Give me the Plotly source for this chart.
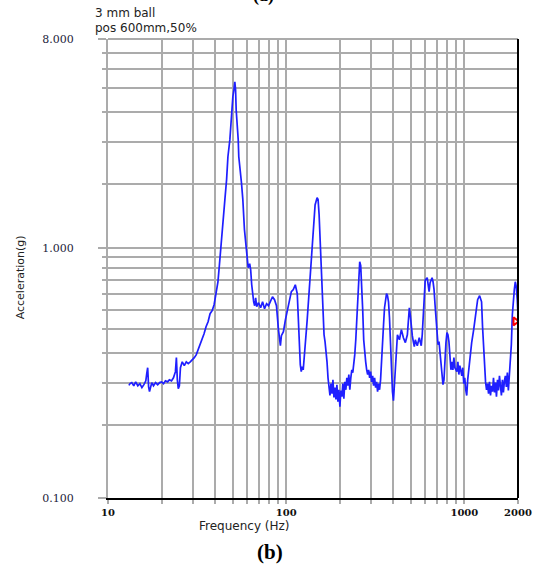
import math
import plotly.graph_objects as go

# ---- data ----
freq_hz = [
    13.1, 13.3, 13.6, 13.95, 14.3, 14.7, 15.1, 15.5, 15.9, 16.3,
    16.5, 16.7, 16.9, 17.1, 17.6, 18.0, 18.5, 19.0, 19.5, 20.0,
    20.5, 21.0, 21.6, 22.1, 22.7, 23.3, 23.9, 24.2, 24.5, 24.8,
    25.15, 25.5, 26.1, 26.8, 27.5, 28.2, 28.95, 29.7, 30.5, 31.3,
    32.1, 32.9, 33.8, 34.6, 35.5, 36.45, 37.4, 38.4, 39.4, 40.4,
    41.4, 42.2, 42.9, 43.8, 45.3, 46.3, 47.1, 48.3, 48.9, 49.4,
    50.2, 50.9, 51.5, 52.0, 52.4, 53.8, 54.2, 56.1, 57.1, 58.3,
    59.55, 60.5, 61.2, 62.4, 63.2, 64.05, 64.9, 65.7, 66.55, 67.4,
    68.3, 70.0, 71.9, 73.7, 75.6, 77.6, 79.6, 81.7, 83.8, 86.0,
    88.2, 90.5, 91.65, 92.8, 94.0, 96.5, 99.0, 101.6, 104.2, 106.9,
    109.65, 112.5, 115.4, 116.9, 118.4, 120.0, 121.5, 123.1, 124.65, 126.3,
    127.9, 131.2, 134.6, 138.1, 141.7, 145.3, 149.1, 151.0, 153.0, 154.9,
    156.9, 159.0, 161.0, 163.1, 165.2, 167.3, 169.5, 171.7, 173.9, 176.1,
    178.4, 180.7, 183.0, 185.4, 187.8, 190.2, 192.6, 195.1, 197.6, 200.2,
    202.8, 205.4, 208.0, 210.7, 213.4, 216.2, 219.0, 221.8, 224.7, 227.6,
    230.5, 233.5, 236.5, 239.5, 242.6, 245.8, 248.9, 252.1, 255.4, 258.7,
    262.0, 265.4, 268.8, 272.3, 275.8, 279.4, 283.0, 286.6, 290.3, 294.1,
    297.8, 301.7, 305.6, 309.5, 313.5, 317.6, 321.7, 325.8, 330.0, 334.3,
    338.6, 343.0, 347.4, 351.9, 356.4, 361.0, 365.7, 370.4, 375.2, 380.0,
    384.9, 389.9, 394.9, 400.0, 405.2, 410.4, 415.7, 421.1, 432.0, 443.2,
    454.8, 466.6, 478.7, 484.9, 491.2, 497.5, 503.9, 510.4, 517.0, 523.7,
    530.4, 544.2, 558.3, 572.8, 580.2, 587.7, 595.3, 603.0, 618.6, 625.9,
    634.0, 642.2, 650.4, 658.8, 667.3, 675.9, 684.6, 693.5, 702.4, 711.5,
    720.7, 730.0, 739.4, 748.9, 758.6, 768.4, 778.3, 788.3, 798.5, 808.8,
    819.2, 829.8, 840.5, 851.3, 862.3, 873.4, 884.7, 907.7, 919.4, 931.2,
    943.2, 967.7, 979.8, 992.4, 1005, 1018, 1031, 1044, 1058, 1072,
    1099, 1128, 1157, 1187, 1218, 1249, 1265, 1282, 1298, 1315,
    1332, 1349, 1367, 1384, 1402, 1420, 1439, 1457, 1476, 1495,
    1514, 1534, 1554, 1574, 1594, 1614, 1635, 1656, 1678, 1699,
    1721, 1743, 1766, 1789, 1812, 1835, 1859, 1883, 1907, 1931,
    1956, 1981, 1995,
]
accel_g = [
    0.293, 0.298, 0.301, 0.292, 0.303, 0.292, 0.298, 0.287, 0.295, 0.306,
    0.328, 0.347, 0.289, 0.276, 0.301, 0.292, 0.301, 0.295, 0.301, 0.303,
    0.298, 0.306, 0.303, 0.309, 0.306, 0.315, 0.334, 0.382, 0.309, 0.284,
    0.292, 0.347, 0.367, 0.354, 0.367, 0.361, 0.367, 0.374, 0.382, 0.393,
    0.412, 0.432, 0.453, 0.480, 0.513, 0.538, 0.581, 0.598, 0.633, 0.697,
    0.788, 0.927, 1.08, 1.385, 1.73, 2.09, 2.60, 3.06, 3.63, 4.07,
    4.61, 4.93, 5.32, 4.93, 4.07, 3.06, 2.60, 2.03, 1.73, 1.30,
    1.10, 0.954, 0.902, 0.936, 0.884, 0.766, 0.690, 0.651, 0.627, 0.676,
    0.621, 0.645, 0.615, 0.651, 0.609, 0.639, 0.627, 0.658, 0.683, 0.664,
    0.627, 0.499, 0.445, 0.428, 0.471, 0.489, 0.548, 0.604, 0.664, 0.717,
    0.731, 0.766, 0.703, 0.559, 0.432, 0.357, 0.334, 0.350, 0.340, 0.374,
    0.432, 0.548, 0.731, 0.975, 1.30, 1.64, 1.76, 1.73, 1.50, 1.18,
    0.884, 0.664, 0.548, 0.475, 0.445, 0.412, 0.367, 0.315, 0.292, 0.266,
    0.298, 0.271, 0.309, 0.261, 0.287, 0.256, 0.295, 0.251, 0.281, 0.239,
    0.279, 0.263, 0.298, 0.258, 0.303, 0.281, 0.315, 0.292, 0.325, 0.281,
    0.315, 0.340, 0.331, 0.354, 0.393, 0.453, 0.548, 0.697, 0.867, 0.954,
    0.919, 0.766, 0.604, 0.453, 0.393, 0.367, 0.340, 0.325, 0.340, 0.315,
    0.334, 0.303, 0.321, 0.292, 0.315, 0.287, 0.303, 0.276, 0.298, 0.281,
    0.309, 0.357, 0.432, 0.523, 0.615, 0.683, 0.703, 0.690, 0.651, 0.559,
    0.432, 0.334, 0.276, 0.253, 0.295, 0.367, 0.432, 0.475, 0.453, 0.499,
    0.462, 0.441, 0.475, 0.538, 0.615, 0.570, 0.499, 0.471, 0.445, 0.424,
    0.453, 0.428, 0.462, 0.428, 0.475, 0.592, 0.703, 0.800, 0.819, 0.759,
    0.717, 0.781, 0.800, 0.819, 0.788, 0.731, 0.633, 0.548, 0.475, 0.432,
    0.445, 0.393, 0.357, 0.325, 0.295, 0.309, 0.382, 0.441, 0.485, 0.475,
    0.445, 0.374, 0.340, 0.367, 0.340, 0.382, 0.347, 0.334, 0.367, 0.325,
    0.354, 0.321, 0.347, 0.298, 0.315, 0.281, 0.266, 0.309, 0.340, 0.389,
    0.441, 0.499, 0.575, 0.664, 0.690, 0.651, 0.513, 0.412, 0.340, 0.303,
    0.281, 0.298, 0.271, 0.303, 0.266, 0.292, 0.276, 0.315, 0.274, 0.301,
    0.263, 0.309, 0.279, 0.321, 0.292, 0.266, 0.309, 0.274, 0.306, 0.321,
    0.289, 0.331, 0.279, 0.315, 0.374, 0.432, 0.575, 0.676, 0.731, 0.788,
    0.752, 0.664, 0.598,
]

cursor_hz = [1931]
cursor_g = [0.54]

x_tick_vals = [10, 100, 1000, 2000]
x_tick_text = ["10", "100", "1000", "2000"]
x_minor_vals = [20, 30, 40, 50, 60, 70, 80, 90, 200, 300, 400, 500, 600, 700, 800, 900]

y_tick_vals = [0.1, 1.088, 8]
y_tick_text = ["0.100", "1.000", "8.000"]
y_minor_vals = [0.2, 0.3, 0.4, 0.5, 0.6, 0.7, 0.8, 0.9, 1, 2, 3, 4, 5, 6, 7]

title_lines = ["3 mm ball", "pos 600mm,50%"]

GRID = "#ababab"

fig = go.Figure()
fig.add_trace(go.Scatter(
    x=freq_hz, y=accel_g, mode="lines",
    line=dict(color="#1f1fff", width=1.7),
    hoverinfo="skip", showlegend=False,
))
fig.add_trace(go.Scatter(
    x=cursor_hz, y=cursor_g, mode="markers",
    marker=dict(symbol="triangle-right-open", size=7, color="#ff0000",
                line=dict(color="#ff0000", width=2)),
    hoverinfo="skip", showlegend=False,
))

fig.update_layout(
    width=544, height=570,
    margin=dict(l=108, r=22, t=39, b=72),
    paper_bgcolor="white", plot_bgcolor="white",
    showlegend=False,
    xaxis=dict(
        type="log", range=[1, math.log10(2000)],
        tickmode="array", tickvals=x_tick_vals, ticktext=x_tick_text,
        ticks="outside", ticklen=4, tickcolor=GRID, tickwidth=1.5,
        tickfont=dict(family="DejaVu Serif", size=10, color="#111111", weight="bold"),
        showgrid=True, gridcolor=GRID, gridwidth=2,
        showline=True, linecolor="#000000", linewidth=2,
        zeroline=False,
        minor=dict(tickmode="array", tickvals=x_minor_vals, ticks="outside",
                   ticklen=4, tickcolor=GRID, showgrid=True,
                   gridcolor=GRID, gridwidth=2),
    ),
    yaxis=dict(
        type="log", range=[-1, math.log10(8)],
        tickmode="array", tickvals=y_tick_vals, ticktext=y_tick_text,
        ticks="outside", ticklen=8, tickcolor=GRID, tickwidth=1.5,
        ticklabelstandoff=22,
        tickfont=dict(family="DejaVu Serif", size=11, color="#1c1c3a"),
        showgrid=True, gridcolor=GRID, gridwidth=2,
        showline=True, linecolor=GRID, linewidth=2,
        zeroline=False,
        minor=dict(tickmode="array", tickvals=y_minor_vals, ticks="outside",
                   ticklen=4, tickcolor=GRID, showgrid=True,
                   gridcolor=GRID, gridwidth=2),
    ),
    shapes=[
        dict(type="line", xref="paper", yref="paper", x0=0, x1=1, y0=1, y1=1,
             line=dict(color=GRID, width=2)),
        dict(type="line", xref="paper", yref="paper", x0=1, x1=1, y0=0, y1=1,
             line=dict(color="#000000", width=2)),
    ],
    annotations=[
        dict(text=title_lines[0], xref="paper", yref="paper", x=-0.037, y=1.057,
             xanchor="left", yanchor="middle", showarrow=False,
             font=dict(family="DejaVu Sans", size=12, color="#222222")),
        dict(text=title_lines[1], xref="paper", yref="paper", x=-0.037, y=1.024,
             xanchor="left", yanchor="middle", showarrow=False,
             font=dict(family="DejaVu Sans", size=12, color="#222222")),
        dict(text="Frequency (Hz)", xref="paper", yref="paper", x=0.334, y=-0.062,
             xanchor="center", yanchor="middle", showarrow=False,
             font=dict(family="DejaVu Sans", size=12, color="#222222")),
        dict(text="Acceleration(g)", xref="paper", yref="paper", x=-0.213, y=0.48,
             xanchor="center", yanchor="middle", showarrow=False, textangle=-90,
             font=dict(family="DejaVu Sans", size=11, color="#222222")),
        dict(text="<b>(b)</b>", xref="paper", yref="paper", x=0.396, y=-0.117,
             xanchor="center", yanchor="middle", showarrow=False,
             font=dict(family="Liberation Serif", size=21, color="#000000")),
        dict(text="<b>(a)</b>", xref="paper", yref="paper", x=0.38, y=1.094,
             xanchor="center", yanchor="middle", showarrow=False,
             font=dict(family="Liberation Serif", size=18, color="#000000")),
    ],
)

fig.write_html("out.html",
               config={"displayModeBar": False},
               post_script="document.body.style.margin='0';document.body.style.overflow='hidden';")
